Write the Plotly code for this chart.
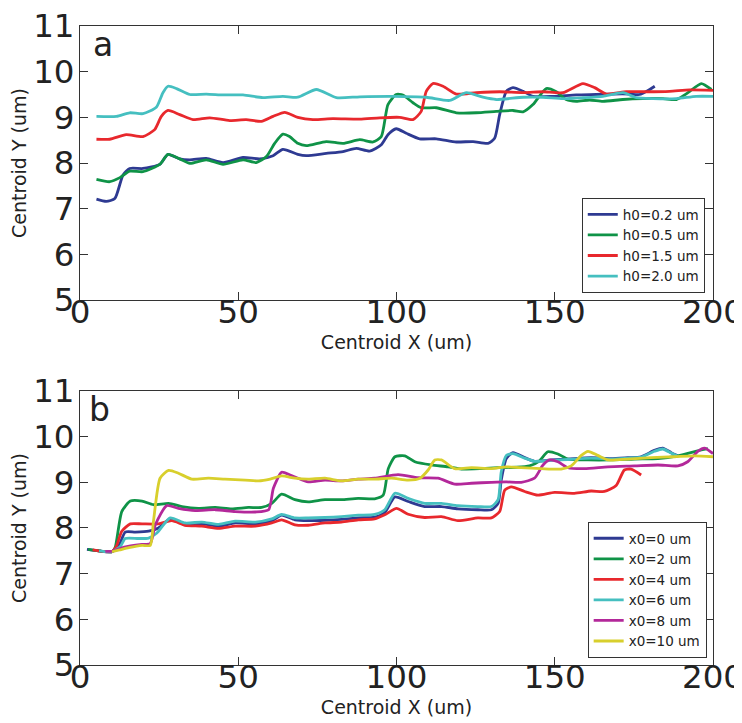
import plotly.graph_objects as go

# ---------------- Panel a data ----------------
a_names = ["h0=0.2 um", "h0=0.5 um", "h0=1.5 um", "h0=2.0 um"]

a_blue_x = [5.2, 8.3, 11.0, 13.6, 15.7, 19.9, 25.2, 27.8, 31.5, 34.7, 39.9, 45.2, 51.5, 56.8, 61.0, 64.1, 68.8,
            71.5, 77.8, 83.1, 87.3, 91.5, 95.2, 97.3, 99.9, 103.1, 107.3, 112.6, 118.9, 124.2, 128.9, 131.0,
            132.6, 134.7, 136.8, 140.0, 143.1, 149.4, 156.8, 163.1, 168.4, 173.6, 176.8, 180.0, 181.6]
a_blue_y = [7.21, 7.16, 7.22, 7.74, 7.88, 7.88, 7.97, 8.19, 8.09, 8.07, 8.10, 8.01, 8.12, 8.09, 8.16, 8.30, 8.19,
            8.16, 8.21, 8.25, 8.32, 8.26, 8.40, 8.62, 8.75, 8.65, 8.53, 8.53, 8.46, 8.47, 8.43, 8.54,
            9.06, 9.57, 9.65, 9.57, 9.46, 9.46, 9.49, 9.50, 9.51, 9.51, 9.50, 9.61, 9.68]

a_green_x = [5.2, 9.4, 12.6, 15.7, 19.9, 25.2, 27.8, 31.5, 34.7, 39.9, 45.2, 51.5, 55.7, 58.9, 61.5, 64.1, 66.2,
             68.8, 71.5, 77.8, 83.1, 88.4, 92.6, 95.2, 97.3, 99.9, 102.0, 105.2, 107.8, 112.6, 118.9, 125.2,
             131.5, 136.8, 140.0, 143.1, 147.3, 150.5, 153.6, 156.8, 161.0, 165.2, 171.5, 177.9, 184.2, 188.4,
             192.1, 196.3, 199.5]
a_green_y = [7.64, 7.59, 7.68, 7.82, 7.81, 7.97, 8.19, 8.09, 7.99, 8.07, 7.97, 8.07, 8.01, 8.14, 8.43, 8.63, 8.58,
             8.43, 8.38, 8.47, 8.43, 8.51, 8.46, 8.58, 9.28, 9.50, 9.49, 9.32, 9.21, 9.21, 9.10, 9.10,
             9.13, 9.15, 9.12, 9.28, 9.63, 9.56, 9.39, 9.35, 9.38, 9.35, 9.39, 9.41, 9.41, 9.39,
             9.54, 9.74, 9.61]

a_red_x = [5.2, 9.4, 14.6, 19.9, 23.6, 25.7, 27.8, 31.5, 35.7, 41.0, 47.3, 52.5, 57.3, 61.0, 64.7, 68.8, 73.6,
           79.9, 88.4, 94.7, 101.0, 105.2, 107.8, 109.4, 111.5, 114.7, 118.9, 125.2, 132.6, 140.0, 146.3,
           152.6, 158.9, 162.6, 166.3, 172.6, 178.9, 186.3, 192.6, 200.0]
a_red_y = [8.52, 8.52, 8.62, 8.58, 8.73, 9.02, 9.15, 9.06, 8.95, 8.99, 8.93, 8.95, 8.91, 9.02, 9.11, 9.00, 8.95,
           8.97, 8.96, 8.99, 9.00, 8.95, 9.13, 9.57, 9.74, 9.68, 9.51, 9.54, 9.56, 9.54, 9.56,
           9.54, 9.74, 9.65, 9.51, 9.56, 9.56, 9.57, 9.60, 9.59]

a_cyan_x = [5.2, 11.5, 15.7, 19.9, 24.1, 26.2, 27.8, 30.5, 34.7, 39.9, 45.2, 51.5, 57.8, 64.1, 68.8, 74.7, 81.0,
            88.4, 98.9, 109.4, 116.8, 122.1, 127.3, 131.5, 140.0, 146.3, 152.6, 158.9, 165.2, 171.6, 175.8,
            181.1, 188.4, 194.7, 200.0]
a_cyan_y = [9.02, 9.02, 9.10, 9.08, 9.22, 9.54, 9.68, 9.63, 9.50, 9.51, 9.49, 9.49, 9.43, 9.46, 9.44, 9.61, 9.43,
            9.45, 9.46, 9.44, 9.37, 9.54, 9.44, 9.39, 9.44, 9.44, 9.41, 9.43, 9.46, 9.54, 9.43,
            9.41, 9.41, 9.46, 9.46]

# ---------------- Panel b data ----------------
b_names = ["x0=0 um", "x0=2 um", "x0=4 um", "x0=6 um", "x0=8 um", "x0=10 um"]

b_blue_x = [2.2, 6.9, 10.1, 12.5, 14.3, 17.5, 21.7, 24.8, 28.5, 33.2, 38.5, 43.8, 49.0, 55.4, 60.6, 63.7, 67.9,
            72.1, 77.4, 82.6, 87.9, 93.1, 96.3, 99.5, 103.7, 108.9, 114.2, 119.4, 125.7, 130.0, 132.1, 133.1,
            134.7, 136.8, 140.5, 143.6, 148.9, 154.2, 161.5, 167.8, 173.1, 177.3, 181.5, 184.1, 186.8, 188.9]
b_blue_y = [7.53, 7.49, 7.48, 7.65, 7.91, 7.91, 7.93, 8.00, 8.20, 8.07, 8.09, 8.04, 8.11, 8.09, 8.16, 8.28, 8.18,
            8.16, 8.17, 8.19, 8.22, 8.24, 8.34, 8.68, 8.58, 8.47, 8.47, 8.42, 8.40, 8.40, 8.54, 9.05,
            9.52, 9.65, 9.54, 9.46, 9.49, 9.51, 9.54, 9.52, 9.54, 9.56, 9.70, 9.75, 9.65, 9.58]

b_green_x = [2.5, 6.9, 10.1, 11.1, 13.2, 15.9, 19.6, 23.2, 28.0, 32.2, 37.4, 42.7, 47.9, 53.2, 57.4, 60.6, 63.7,
             67.9, 72.1, 77.4, 82.6, 87.9, 93.1, 95.8, 97.4, 99.5, 102.6, 105.8, 111.0, 116.3, 120.5, 126.8,
             132.1, 138.0, 142.0, 145.0, 147.8, 151.0, 154.2, 160.5, 167.8, 175.2, 182.6, 188.9, 196.3, 198.4]
b_green_y = [7.53, 7.49, 7.48, 7.57, 8.36, 8.59, 8.59, 8.51, 8.54, 8.47, 8.43, 8.45, 8.42, 8.45, 8.45, 8.54, 8.74,
             8.62, 8.57, 8.62, 8.62, 8.65, 8.64, 8.72, 9.30, 9.56, 9.58, 9.45, 9.38, 9.34, 9.29, 9.30,
             9.32, 9.33, 9.36, 9.46, 9.67, 9.62, 9.51, 9.49, 9.49, 9.51, 9.52, 9.58, 9.71, 9.74]

b_red_x = [4.0, 6.9, 10.1, 11.5, 13.2, 15.9, 19.6, 24.8, 29.0, 33.2, 38.5, 43.8, 49.0, 55.4, 60.6, 63.7, 67.9,
           72.1, 77.4, 82.6, 87.9, 93.1, 96.3, 100.0, 103.7, 108.9, 114.2, 119.4, 125.7, 130.0, 132.6, 134.2,
           136.3, 140.5, 144.7, 149.9, 156.2, 161.5, 165.7, 169.4, 172.0, 174.1, 177.3]
b_red_y = [7.52, 7.49, 7.48, 7.60, 7.93, 8.09, 8.09, 8.09, 8.16, 8.06, 8.04, 7.99, 8.04, 8.04, 8.11, 8.18, 8.07,
           8.06, 8.11, 8.13, 8.18, 8.20, 8.29, 8.43, 8.30, 8.23, 8.25, 8.16, 8.22, 8.22, 8.36, 8.83,
           8.90, 8.80, 8.72, 8.78, 8.76, 8.81, 8.80, 8.93, 9.27, 9.29, 9.16]

b_cyan_x = [6.0, 8.5, 10.1, 12.8, 14.3, 18.5, 21.7, 24.3, 28.5, 33.2, 38.5, 43.8, 49.0, 55.4, 60.6, 63.7, 67.9,
            72.1, 77.4, 82.6, 87.9, 93.1, 96.3, 99.5, 103.7, 108.9, 114.2, 119.4, 125.7, 130.0, 132.1, 133.1,
            134.7, 136.8, 140.5, 143.6, 148.9, 154.2, 161.5, 167.8, 173.1, 177.3, 181.5, 184.1, 186.8, 188.9]
b_cyan_y = [7.50, 7.48, 7.48, 7.60, 7.77, 7.77, 7.78, 7.89, 8.22, 8.11, 8.13, 8.08, 8.15, 8.13, 8.20, 8.30, 8.22,
            8.22, 8.23, 8.25, 8.28, 8.30, 8.40, 8.76, 8.65, 8.54, 8.54, 8.49, 8.47, 8.47, 8.62, 9.23,
            9.59, 9.63, 9.53, 9.46, 9.48, 9.50, 9.53, 9.51, 9.53, 9.55, 9.68, 9.73, 9.64, 9.57]

b_magenta_x = [8.0, 10.1, 14.0, 19.6, 22.2, 23.8, 27.4, 31.1, 36.4, 42.7, 49.0, 55.4, 59.6, 61.1, 63.7, 66.4,
               68.5, 72.1, 77.4, 82.6, 87.9, 93.1, 100.5, 106.8, 113.1, 118.4, 123.7, 130.0, 134.7, 139.4,
               143.6, 146.3, 148.4, 151.0, 154.2, 159.4, 166.8, 175.2, 182.6, 188.9, 192.0, 195.2, 197.3, 200.0]
b_magenta_y = [7.49, 7.49, 7.58, 7.64, 7.66, 8.07, 8.49, 8.43, 8.38, 8.40, 8.36, 8.35, 8.40, 8.87, 9.22, 9.16,
               9.10, 9.01, 9.05, 9.03, 9.07, 9.09, 9.17, 9.10, 9.09, 8.96, 8.98, 9.00, 9.01, 9.00,
               9.09, 9.38, 9.49, 9.45, 9.32, 9.30, 9.34, 9.36, 9.38, 9.36, 9.45, 9.68, 9.75, 9.63]

b_yellow_x = [10.1, 12.5, 15.4, 19.6, 22.2, 23.2, 25.3, 28.0, 31.1, 35.3, 40.6, 45.8, 52.2, 56.4, 60.1, 63.7,
              67.9, 72.1, 77.4, 82.6, 87.9, 93.1, 98.4, 103.7, 107.4, 110.0, 112.1, 114.2, 118.4, 123.7, 130.0,
              134.7, 139.4, 145.7, 152.0, 155.2, 158.4, 160.5, 163.6, 166.8, 173.1, 180.5, 187.9, 194.2, 200.0]
b_yellow_y = [7.48, 7.52, 7.57, 7.62, 7.62, 8.14, 9.09, 9.26, 9.20, 9.07, 9.09, 9.07, 9.05, 9.03, 9.07, 9.14,
              9.09, 9.07, 9.09, 9.03, 9.07, 9.07, 9.09, 9.05, 9.09, 9.27, 9.49, 9.49, 9.30, 9.32, 9.30,
              9.34, 9.32, 9.30, 9.29, 9.36, 9.59, 9.68, 9.59, 9.49, 9.51, 9.54, 9.56, 9.58, 9.56]

# colours as they appear in the figure
BLUE, GREEN, RED, CYAN, MAGENTA, YELLOW = "#2e3a92", "#0f9347", "#e8282d", "#45bfc0", "#b3289a", "#d8cf2c"

fig = go.Figure()

a_series = [(a_blue_x, a_blue_y, BLUE), (a_green_x, a_green_y, GREEN),
            (a_red_x, a_red_y, RED), (a_cyan_x, a_cyan_y, CYAN)]
for name, (xs, ys, c) in zip(a_names, a_series):
    fig.add_trace(go.Scatter(x=xs, y=ys, mode="lines", name=name,
                             line=dict(color=c, width=2.8, shape="spline", smoothing=0.6),
                             xaxis="x", yaxis="y", legend="legend"))

b_series = [(b_blue_x, b_blue_y, BLUE), (b_green_x, b_green_y, GREEN), (b_red_x, b_red_y, RED),
            (b_cyan_x, b_cyan_y, CYAN), (b_magenta_x, b_magenta_y, MAGENTA), (b_yellow_x, b_yellow_y, YELLOW)]
for name, (xs, ys, c) in zip(b_names, b_series):
    fig.add_trace(go.Scatter(x=xs, y=ys, mode="lines", name=name,
                             line=dict(color=c, width=2.8, shape="spline", smoothing=0.6),
                             xaxis="x2", yaxis="y2", legend="legend2"))

FONT = "DejaVu Sans"
axis_common = dict(showline=True, linecolor="#333333", linewidth=1, mirror="ticks",
                   ticks="inside", ticklen=8, tickcolor="#333333", tickwidth=1,
                   showgrid=False, zeroline=False, automargin=False, ticklabeloverflow="allow",
                   tickfont=dict(family=FONT, size=32.5, color="#222222"))

x_title = dict(text="Centroid X (um)", font=dict(family=FONT, size=19, color="#222222"), standoff=2)
y_title = dict(text="Centroid Y (um)", font=dict(family=FONT, size=19, color="#222222"), standoff=21)

legend_common = dict(bgcolor="white", bordercolor="#333333", borderwidth=1,
                     font=dict(family=FONT, size=13.5, color="#222222"),
                     xanchor="right", yanchor="bottom", tracegroupgap=0, itemwidth=30)

fig.update_layout(
    width=742, height=723,
    margin=dict(l=72, r=37, t=18, b=66),
    paper_bgcolor="white", plot_bgcolor="white",
    font=dict(family=FONT),
    xaxis=dict(domain=[0, 1], range=[0, 200], dtick=50, anchor="y", title=x_title,
               ticklabelstandoff=-17, **axis_common),
    yaxis=dict(domain=[0.5712, 1], range=[5, 11], dtick=1, anchor="x", title=y_title,
               ticklabelstandoff=-2, **axis_common),
    xaxis2=dict(domain=[0, 1], range=[0, 200], dtick=50, anchor="y2", title=x_title,
                ticklabelstandoff=-17, **axis_common),
    yaxis2=dict(domain=[0, 0.4288], range=[5, 11], dtick=1, anchor="x2", title=y_title,
                ticklabelstandoff=-2, **axis_common),
    legend=dict(x=0.987, y=0.582, **legend_common),
    legend2=dict(x=0.99, y=0.011, **legend_common),
    annotations=[
        dict(text="a", x=3.6, y=10.59, xref="x", yref="y", xanchor="left", yanchor="middle",
             showarrow=False, font=dict(family=FONT, size=33, color="#222222")),
        dict(text="b", x=2.3, y=10.59, xref="x2", yref="y2", xanchor="left", yanchor="middle",
             showarrow=False, font=dict(family=FONT, size=33, color="#222222")),
    ],
)

fig.write_html("out.html")
